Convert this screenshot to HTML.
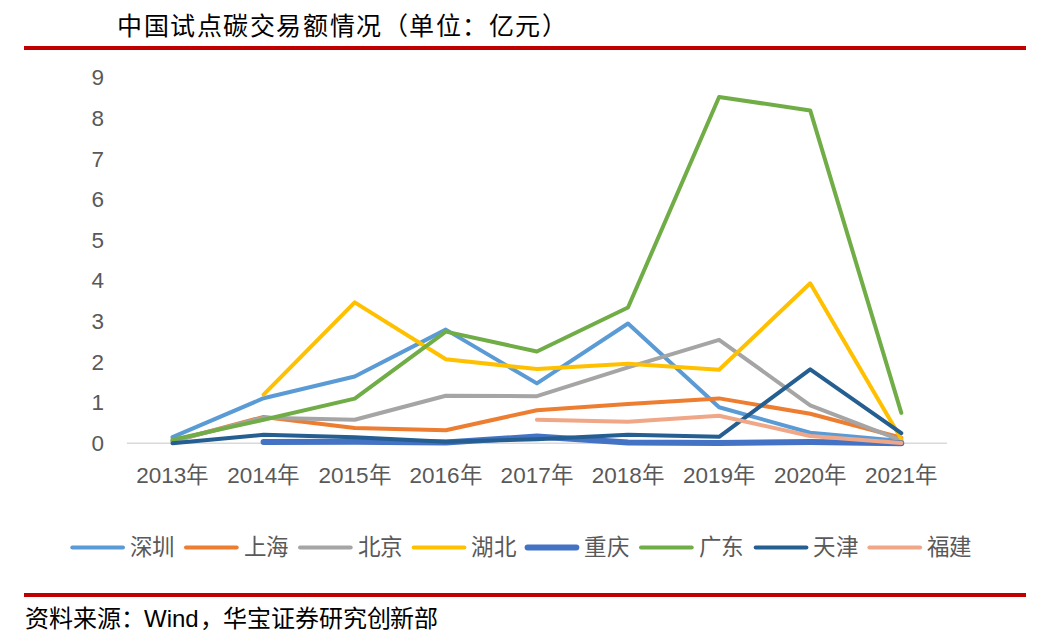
<!DOCTYPE html>
<html lang="zh-CN"><head><meta charset="utf-8"><title>中国试点碳交易额情况</title>
<style>
html,body{margin:0;padding:0;background:#fff;}
body{width:1045px;height:641px;overflow:hidden;}
svg{display:block;}
.t{font-family:"Liberation Serif",serif;font-size:25px;fill:#000;}
.ax{font-family:"Liberation Sans",sans-serif;font-size:22.5px;fill:#595959;}
.lg{font-family:"Liberation Sans",sans-serif;font-size:22.5px;fill:#595959;}
.ft{font-family:"Liberation Serif",serif;font-size:24px;fill:#000;}
.fw{font-family:"Liberation Sans",sans-serif;font-size:24px;fill:#000;}
</style></head>
<body>
<svg width="1045" height="641" viewBox="0 0 1045 641">
<text class="t" x="117.0 143.6 170.1 196.7 223.2 249.8 276.4 302.9 329.5 356.0 382.6 409.2 435.7 462.3 488.8 515.4 542.0" y="34.5">中国试点碳交易额情况（单位：亿元）</text>
<rect x="24" y="46" width="1002" height="4" fill="#C00000"/>
<g class="ax" text-anchor="end">
<text x="104" y="450.8">0</text>
<text x="104" y="410.2">1</text>
<text x="104" y="369.6">2</text>
<text x="104" y="329.0">3</text>
<text x="104" y="288.4">4</text>
<text x="104" y="247.8">5</text>
<text x="104" y="207.2">6</text>
<text x="104" y="166.6">7</text>
<text x="104" y="126.0">8</text>
<text x="104" y="85.4">9</text>
</g>
<line x1="126.9" y1="443.3" x2="946.9" y2="443.3" stroke="#D9D9D9" stroke-width="1.5"/>
<g class="ax">
<text x="136.2 148.7 161.2 173.7 186.2" y="483.2">2013年</text>
<text x="227.3 239.8 252.3 264.8 277.4" y="483.2">2014年</text>
<text x="318.4 330.9 343.4 356.0 368.5" y="483.2">2015年</text>
<text x="409.5 422.0 434.6 447.1 459.6" y="483.2">2016年</text>
<text x="500.6 513.2 525.7 538.2 550.7" y="483.2">2017年</text>
<text x="591.8 604.3 616.8 629.3 641.8" y="483.2">2018年</text>
<text x="682.9 695.4 707.9 720.4 732.9" y="483.2">2019年</text>
<text x="774.0 786.5 799.0 811.5 824.0" y="483.2">2020年</text>
<text x="865.1 877.6 890.1 902.6 915.1" y="483.2">2021年</text>
</g>
<g fill="none" stroke-linecap="round" stroke-linejoin="round">
<polyline points="172.5,437.2 263.6,398.2 354.7,376.5 445.8,329.6 536.9,383.4 628.0,323.5 719.1,407.2 810.2,432.7 901.3,440.9" stroke="#5B9BD5" stroke-width="4"/>
<polyline points="172.5,441.3 263.6,416.9 354.7,427.9 445.8,430.3 536.9,410.2 628.0,403.9 719.1,398.4 810.2,413.7 901.3,437.8" stroke="#ED7D31" stroke-width="4"/>
<polyline points="172.5,441.3 263.6,417.7 354.7,419.8 445.8,395.8 536.9,396.2 628.0,367.4 719.1,339.8 810.2,405.3 901.3,440.3" stroke="#A5A5A5" stroke-width="4"/>
<polyline points="263.6,394.6 354.7,302.4 445.8,359.3 536.9,369.0 628.0,363.7 719.1,369.8 810.2,283.3 901.3,439.0" stroke="#FFC000" stroke-width="4"/>
<polyline points="263.6,442.1 354.7,441.7 445.8,442.5 536.9,436.6 628.0,442.5 719.1,442.9 810.2,442.1 901.3,443.3" stroke="#4472C4" stroke-width="6"/>
<polyline points="172.5,439.8 263.6,419.8 354.7,398.6 445.8,331.6 536.9,351.5 628.0,307.5 719.1,97.0 810.2,110.4 901.3,412.9" stroke="#70AD47" stroke-width="4"/>
<polyline points="172.5,443.3 263.6,434.8 354.7,437.2 445.8,441.8 536.9,439.2 628.0,434.8 719.1,436.8 810.2,369.4 901.3,433.2" stroke="#255E91" stroke-width="4"/>
<polyline points="536.9,419.8 628.0,421.8 719.1,415.7 810.2,436.0 901.3,442.9" stroke="#F0A787" stroke-width="4"/>
</g>
<g class="lg" stroke-linecap="round">
<line x1="72.3" y1="547.4" x2="123.0" y2="547.4" stroke="#5B9BD5" stroke-width="4"/>
<text x="129.8 152.3" y="555">深圳</text>
<line x1="186.0" y1="547.4" x2="236.7" y2="547.4" stroke="#ED7D31" stroke-width="4"/>
<text x="243.5 266.0" y="555">上海</text>
<line x1="300.0" y1="547.4" x2="350.7" y2="547.4" stroke="#A5A5A5" stroke-width="4"/>
<text x="357.5 380.0" y="555">北京</text>
<line x1="413.7" y1="547.4" x2="464.4" y2="547.4" stroke="#FFC000" stroke-width="4"/>
<text x="471.2 493.7" y="555">湖北</text>
<line x1="527.6" y1="547.4" x2="576.3" y2="547.4" stroke="#4472C4" stroke-width="6"/>
<text x="584.1 606.6" y="555">重庆</text>
<line x1="641.0" y1="547.4" x2="691.7" y2="547.4" stroke="#70AD47" stroke-width="4"/>
<text x="698.5 721.0" y="555">广东</text>
<line x1="755.7" y1="547.4" x2="806.4" y2="547.4" stroke="#255E91" stroke-width="4"/>
<text x="813.2 835.7" y="555">天津</text>
<line x1="869.4" y1="547.4" x2="920.1" y2="547.4" stroke="#F0A787" stroke-width="4"/>
<text x="926.9 949.4" y="555">福建</text>
</g>
<rect x="24" y="593" width="1002" height="4" fill="#C00000"/>
<text class="ft" x="25.0 48.9 72.8 96.7 120.6" y="626.8">资料来源：</text>
<text class="fw" x="144" y="626.8">Wind</text>
<text class="ft" x="199.5 223.3 247.2 271.1 294.9 318.8 342.6 366.5 390.3 414.1" y="626.8">，华宝证券研究创新部</text>
</svg>
</body></html>
